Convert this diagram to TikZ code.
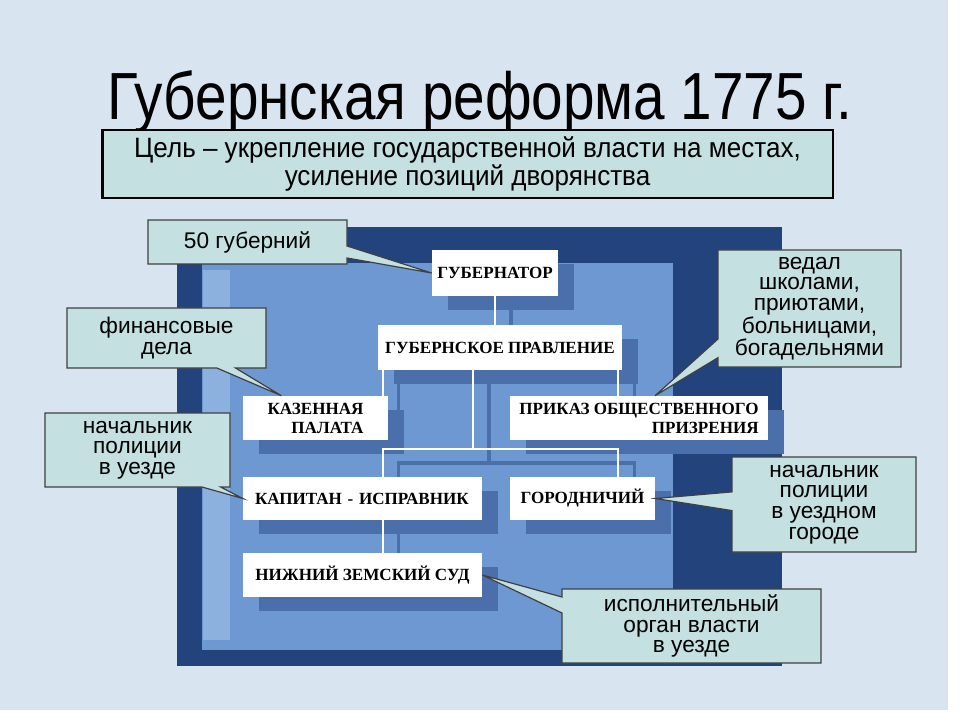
\documentclass[tikz,border=0pt]{standalone}
\usepackage{fontspec}
\setmainfont{Liberation Sans}
\newfontfamily\narrowfont[FakeStretch=0.85]{Liberation Sans}
\newfontfamily\aimfont[FakeStretch=0.93]{Liberation Sans}
\newfontfamily\postfont{Liberation Serif}
\usetikzlibrary{shapes.callouts}

\pgfdeclarelayer{background}
\pgfsetlayers{background,main}

\definecolor{slide}{HTML}{D8E5F1}
\definecolor{frame}{HTML}{22437C}
\definecolor{panel}{HTML}{6E98D1}
\definecolor{scroll}{HTML}{8DB1DF}
\definecolor{boxshade}{HTML}{4A6FAB}
\definecolor{notefill}{HTML}{C4E0E0}

% connectors of the scheme, drawn twice (shadow, then white)
\newcommand\wirepaths[1]{%
  \draw[#1] (gub.south) -- (gub.south |- prav.north);
  \draw[#1] (lx) -- (lx |- kaz.north);
  \draw[#1] (rx) -- (rx |- prikaz.north);
  \draw[#1] (fork |- prav.south) -- (fork);
  \draw[#1] (lx |- kapitan.north) -- (lx |- fork) -- (rx |- fork) -- (rx |- gorod.north);
  \draw[#1] (lx |- kapitan.south) -- (lx |- sud.north);
}

\begin{document}
\begin{tikzpicture}[x=0.75pt, y=-0.75pt,
    post/.style={fill=white, font=\postfont\bfseries\fontsize{12.8}{14.2}\selectfont,
      inner xsep=4pt, inner ysep=2pt, minimum height=33pt},
    note/.style={rectangle callout, fill=notefill, draw=black!75, line width=0.9pt,
      align=center, font=\fontsize{17}{15.5}\selectfont, inner sep=2pt,
      callout pointer width=14pt},
    wire/.style={draw=white, line width=1.6pt},
    wire shade/.style={draw=boxshade, line width=2.6pt,
      transform canvas={shift={(12pt,-10.5pt)}}}]
\useasboundingbox (0,0) rectangle (960,720);

% title and aim
\node[font=\narrowfont\fontsize{50}{56}\selectfont, anchor=base] (title) at (480,120)
  {Губернская реформа 1775 г.};
\node[fill=notefill, draw=black, line width=2pt, minimum width=548pt, minimum height=51pt,
  align=center, font=\aimfont\fontsize{21}{21}\selectfont] (aim) at (467.5,164)
  {Цель – укрепление государственной власти на местах,\\усиление позиций дворянства};

% institutions
\node[post, minimum width=94.5pt, minimum height=34.5pt] (gub) at (495,273) {ГУБЕРНАТОР};
\node[post, minimum width=183pt, minimum height=33.75pt] (prav) at (500,347.5) {ГУБЕРНСКОЕ ПРАВЛЕНИЕ};
\node[post, minimum width=108.75pt, align=right] (kaz) at (315.5,418) {КАЗЕННАЯ\\ПАЛАТА};
\node[post, minimum width=193.5pt, align=right] (prikaz) at (639,418) {ПРИКАЗ ОБЩЕСТВЕННОГО\\ПРИЗРЕНИЯ};
\node[post, minimum height=32.25pt, inner xsep=9pt, text width=161.25pt, align=left] (kapitan) at (362.5,498.5) {КАПИТАН - ИСПРАВНИК};
\node[post, minimum height=32.25pt, minimum width=108.75pt] (gorod) at (582.5,498.5) {ГОРОДНИЧИЙ};
\node[post, minimum width=179.25pt] (sud) at (362.5,575) {НИЖНИЙ ЗЕМСКИЙ СУД};

\coordinate (lx) at ([xshift=3.75pt]prav.south west);
\coordinate (rx) at ([xshift=-3pt]prav.south east);
\coordinate (fork) at (473,449);

\begin{pgfonlayer}{background}
  \fill[white] (0,0) rectangle (960,720);
  \fill[slide] (0,0) rectangle (948,710);
  \fill[frame] (177,227) rectangle (782,666);
  \fill[panel] (202,263) rectangle (673,650);
  \fill[scroll] (203,270) rectangle (230,640);
  \foreach \n in {gub,prav,kaz,prikaz,kapitan,gorod,sud}
    \fill[boxshade] ([xshift=12pt,yshift=-10.5pt]\n.south west) rectangle ([xshift=12pt,yshift=-10.5pt]\n.north east);
  \wirepaths{wire shade}
  \wirepaths{wire}
\end{pgfonlayer}

% remarks
\node[note, minimum width=149.25pt, minimum height=33pt, callout pointer width=9pt,
  callout absolute pointer={(gub.west)}] (n50) at (247.5,242) {50 губерний};
\node[note, minimum width=149.25pt, minimum height=45pt,
  callout absolute pointer={([xshift=29pt]kaz.north west)}] (nfin) at (166.5,338) {финансовые\\дела};
\node[note, minimum width=138.75pt, minimum height=55.5pt,
  callout absolute pointer={(kapitan.west)}] (npol) at (137.5,450) {начальник\\полиции\\в уезде};
\node[note, minimum width=137.25pt, minimum height=87.75pt,
  callout absolute pointer={([xshift=12pt]prikaz.north)}] (nved) at (809.5,308.5)
  {ведал\\школами,\\приютами,\\больницами,\\богадельнями};
\node[note, minimum width=138pt, minimum height=71.25pt,
  callout absolute pointer={(gorod.east)}] (ngor) at (824,504.5)
  {начальник\\полиции\\в уездном\\городе};
\node[note, minimum width=194.25pt, minimum height=55.5pt, callout pointer width=12pt,
  callout absolute pointer={(sud.east)}] (nisp) at (691.5,626)
  {исполнительный\\орган власти\\в уезде};
\end{tikzpicture}
\end{document}
